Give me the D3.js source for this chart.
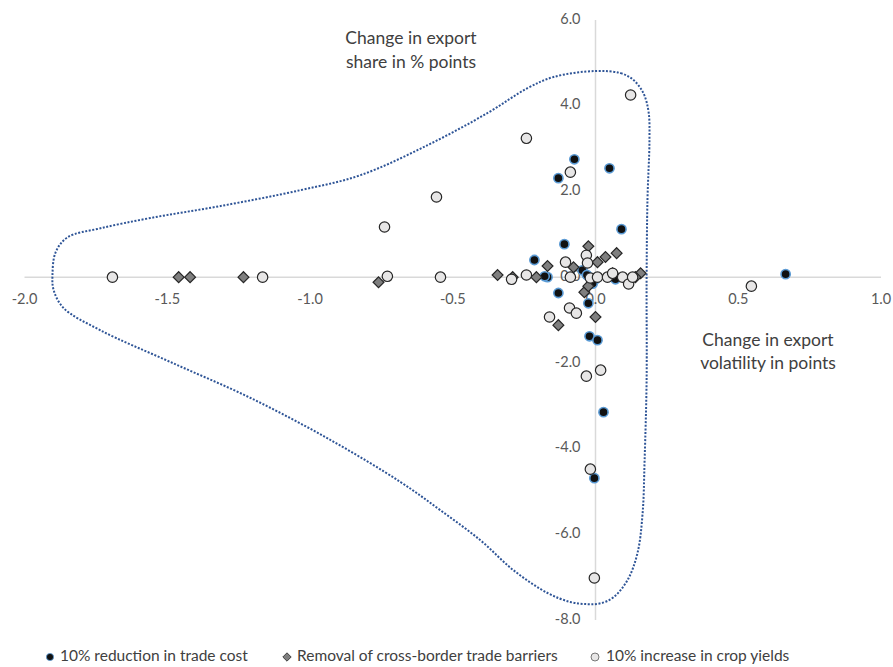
<!DOCTYPE html>
<html>
<head>
<meta charset="utf-8">
<script src="https://cdn.jsdelivr.net/npm/d3@7"></script>
<style>
  html, body { margin: 0; padding: 0; background: #fff; }
  svg { display: block; font-family: Lato, "Open Sans", sans-serif; }
</style>
</head>
<body>
<svg id="chart" width="893" height="667"></svg>
<script>
// ---- data (x = change in export volatility, y = change in export share) ----
const seriesNames = ["10% reduction in trade cost", "Removal of cross-border trade barriers", "10% increase in crop yields"];

const tradeCostX = [-0.074, -0.13, 0.049, 0.091, -0.109, -0.214, -0.168, -0.178, -0.13, -0.046, -0.025, -0.021, 0.007, 0.028, -0.004, 0.666, 0.07, 0.0, -0.01, -0.03];
const tradeCostY = [2.75, 2.31, 2.54, 1.12, 0.77, 0.40, 0.0, 0.02, -0.37, 0.16, -0.61, -1.38, -1.47, -3.15, -4.69, 0.07, -0.05, -0.05, -0.15, 0.05];

const barriersX = [-1.46, -1.42, -1.233, -0.76, -0.343, -0.29, -0.207, -0.168, -0.025, 0.007, 0.035, 0.074, -0.077, -0.039, -0.025, 0.06, 0.158, 0.14, -0.13, 0.0];
const barriersY = [0.0, 0.0, 0.0, -0.12, 0.05, 0.0, 0.0, 0.26, 0.72, 0.35, 0.47, 0.56, 0.23, -0.35, -0.21, 0.09, 0.09, 0.0, -1.12, -0.93];

const cropYieldX = [-1.692, -1.166, -0.729, -0.543, -0.242, -0.557, -0.739, -0.294, -0.242, 0.123, -0.088, -0.105, -0.032, -0.028, -0.088, -0.018, 0.007, 0.042, 0.06, 0.095, 0.116, 0.13, -0.091, -0.067, -0.161, -0.032, 0.018, -0.018, -0.004, 0.546];
const cropYieldY = [0.0, 0.0, 0.02, 0.0, 3.24, 1.87, 1.17, -0.05, 0.05, 4.25, 2.45, 0.35, 0.51, 0.33, 0.0, -0.02, 0.0, 0.0, 0.09, 0.0, -0.16, 0.0, -0.72, -0.84, -0.93, -2.31, -2.17, -4.48, -7.02, -0.21];

const xTicks = [-2.0, -1.5, -1.0, -0.5, 0.0, 0.5, 1.0];
const yTicks = [-8.0, -6.0, -4.0, -2.0, 0.0, 2.0, 4.0, 6.0];

// annotation outline (data units)
const blobX = [0, 0.088, 0.133, 0.168, 0.186, 0.189, 0.182, 0.179, 0.179, 0.172, 0.165, 0.147, 0.112, 0.063, 0.018, -0.028, -0.088, -0.168, -0.287, -0.403, -0.543, -0.683, -0.928, -1.208, -1.489, -1.734, -1.863, -1.898, -1.902, -1.891, -1.849, -1.734, -1.559, -1.313, -1.033, -0.823, -0.588, -0.378, -0.238, -0.147];
const blobY = [4.81, 4.76, 4.60, 4.29, 3.85, 3.20, 1.80, -0.07, -2.40, -4.27, -5.51, -6.44, -7.07, -7.47, -7.61, -7.63, -7.58, -7.37, -6.84, -6.14, -5.44, -4.78, -3.80, -2.82, -1.98, -1.24, -0.72, -0.30, 0.05, 0.58, 0.93, 1.14, 1.38, 1.66, 2.03, 2.38, 3.08, 3.83, 4.41, 4.67];

// ---- drawing ----
const svg = d3.select("#chart");
const x = d3.scaleLinear().domain([-2, 1]).range([24.5, 881]);
const y = d3.scaleLinear().domain([-8, 6]).range([620, 20]);

const axisColor = "#d9d9d9";
const textColor = "#595959";

// axis lines
svg.append("line").attr("x1", x(-2)).attr("x2", x(1)).attr("y1", y(0)).attr("y2", y(0))
  .attr("stroke", axisColor).attr("stroke-width", 1.5);
svg.append("line").attr("x1", x(0)).attr("x2", x(0)).attr("y1", y(6)).attr("y2", y(-8))
  .attr("stroke", axisColor).attr("stroke-width", 1.5);

// tick labels
svg.append("g").selectAll("text").data(xTicks).join("text")
  .attr("x", d => x(d)).attr("y", y(0) + 23)
  .attr("text-anchor", "middle").attr("dominant-baseline", "middle")
  .attr("font-size", 14.5).attr("fill", textColor)
  .text(d => d.toFixed(1));
svg.append("g").selectAll("text").data(yTicks).join("text")
  .attr("x", x(0) - 15).attr("y", d => y(d))
  .attr("text-anchor", "end").attr("dominant-baseline", "middle")
  .attr("font-size", 14.5).attr("fill", textColor)
  .text(d => d.toFixed(1));

// axis titles
const t1 = svg.append("text").attr("font-size", 17.5).attr("fill", "#404040").attr("text-anchor", "middle");
t1.append("tspan").attr("x", 411).attr("y", 44).text("Change in export");
t1.append("tspan").attr("x", 411).attr("y", 68).text("share in % points");
const t2 = svg.append("text").attr("font-size", 17.5).attr("fill", "#404040").attr("text-anchor", "middle");
t2.append("tspan").attr("x", 768).attr("y", 346).text("Change in export");
t2.append("tspan").attr("x", 768).attr("y", 369).text("volatility in points");

// dotted outline
const blob = blobX.map((v, i) => [v, blobY[i]]);
svg.append("path")
  .attr("d", d3.line().x(d => x(d[0])).y(d => y(d[1])).curve(d3.curveCatmullRomClosed.alpha(0.5))(blob))
  .attr("fill", "none").attr("stroke", "#2f5597").attr("stroke-width", 2)
  .attr("stroke-dasharray", "2 1.6");

// series 1: black dots with blue halo
const s1 = tradeCostX.map((v, i) => [v, tradeCostY[i]]);
svg.append("g").selectAll("circle").data(s1).join("circle")
  .attr("cx", d => x(d[0])).attr("cy", d => y(d[1])).attr("r", 4.6)
  .attr("fill", "#111").attr("stroke", "#5b9bd5").attr("stroke-width", 1.6);

// series 2: grey diamonds
const s2 = barriersX.map((v, i) => [v, barriersY[i]]);
const diamond = d3.symbol().type(d3.symbolDiamond2).size(75);
svg.append("g").selectAll("path").data(s2).join("path")
  .attr("transform", d => `translate(${x(d[0])},${y(d[1])})`)
  .attr("d", diamond)
  .attr("fill", "#7f7f7f").attr("stroke", "#262626").attr("stroke-width", 1.2);

// series 3: light grey circles
const s3 = cropYieldX.map((v, i) => [v, cropYieldY[i]]);
svg.append("g").selectAll("circle").data(s3).join("circle")
  .attr("cx", d => x(d[0])).attr("cy", d => y(d[1])).attr("r", 5.2)
  .attr("fill", "#e7e6e6").attr("stroke", "#262626").attr("stroke-width", 1.2);

// legend
const legendY = 657;
const lg = svg.append("g").attr("font-size", 15.5).attr("fill", "#404040");
lg.append("circle").attr("cx", 50).attr("cy", legendY).attr("r", 3.6).attr("fill", "#111").attr("stroke", "#5b9bd5").attr("stroke-width", 0.8);
lg.append("text").attr("x", 60).attr("y", legendY).attr("dominant-baseline", "middle").text(seriesNames[0]);
lg.append("path").attr("transform", `translate(287,${legendY})`).attr("d", d3.symbol().type(d3.symbolDiamond2).size(45))
  .attr("fill", "#7f7f7f").attr("stroke", "#262626").attr("stroke-width", 0.8);
lg.append("text").attr("x", 297).attr("y", legendY).attr("dominant-baseline", "middle").text(seriesNames[1]);
lg.append("circle").attr("cx", 595).attr("cy", legendY).attr("r", 4).attr("fill", "#e7e6e6").attr("stroke", "#595959").attr("stroke-width", 0.8);
lg.append("text").attr("x", 606).attr("y", legendY).attr("dominant-baseline", "middle").text(seriesNames[2]);
</script>
</body>
</html>
